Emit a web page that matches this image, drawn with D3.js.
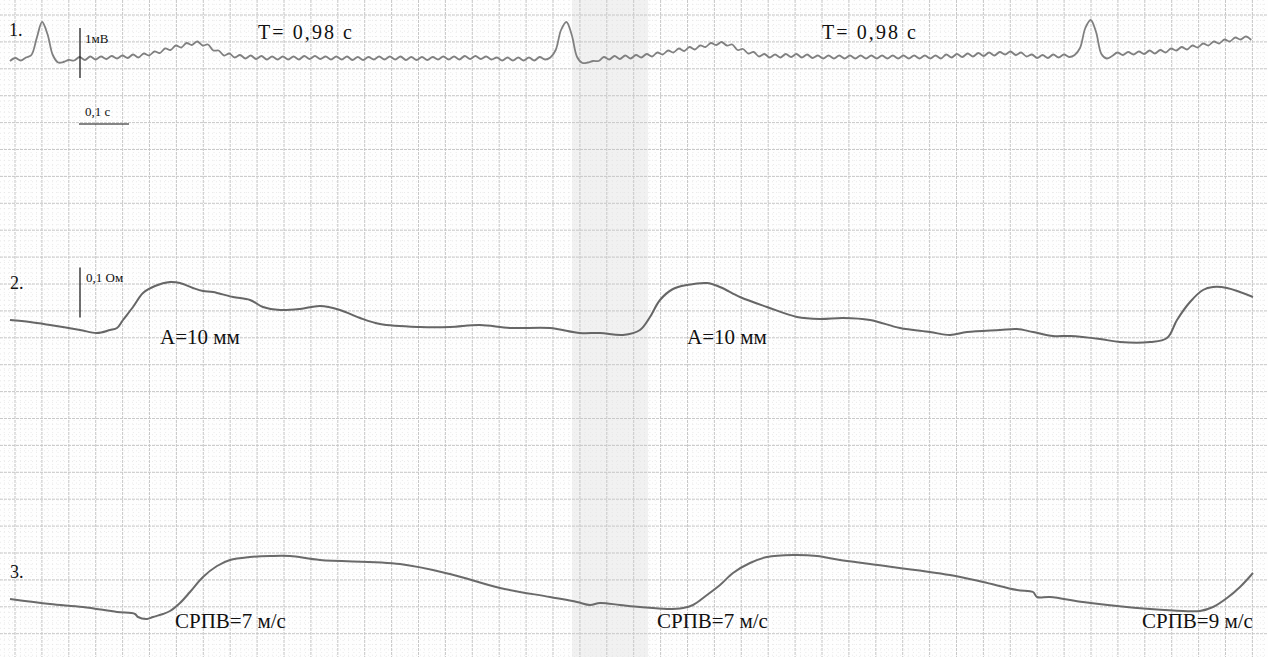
<!DOCTYPE html>
<html>
<head>
<meta charset="utf-8">
<script src="https://cdn.jsdelivr.net/npm/d3@7"></script>
<style>
  html, body { margin: 0; padding: 0; background: #fff; }
  svg text { font-family: "Liberation Serif", "Times New Roman", serif; fill: #111; }
</style>
</head>
<body>
<div id="chart"></div>
<script>
// channel 1: ECG, sampled every 10.7 ms (mV)
const ecgStepMs = 10.7;
const ecgMv = [
  -0.06, 0, -0.05, 0.01, 0.06, 0.40, 0.72, 0.48, 0.06, -0.09,
  -0.08, -0.04, -0.05, 0.02, -0.04, 0.03, -0.03, 0.03, -0.02, 0.04,
  -0.01, 0.05, 0, 0.07, 0.01, 0.09, 0.05, 0.13, 0.10, 0.19,
  0.16, 0.25, 0.21, 0.30, 0.26, 0.33, 0.25, 0.27, 0.15, 0.15,
  0.05, 0.09, 0.01, 0.06, -0.01, 0.05, -0.02, 0.04, -0.03, 0.03,
  -0.03, 0.03, -0.03, 0.03, -0.03, 0.04, -0.02, 0.04, -0.02, 0.03,
  -0.03, 0.03, -0.03, 0.03, -0.04, 0.02, -0.04, 0.02, -0.03, 0.03,
  -0.03, 0.03, -0.03, 0.03, -0.04, 0.02, -0.04, 0.02, -0.04, 0.02,
  -0.03, 0.03, -0.03, 0.03, -0.03, 0.04, -0.02, 0.04, -0.02, 0.03,
  -0.03, 0.01, -0.05, 0.01, -0.05, 0.01, -0.05, 0.01, -0.05, 0.02,
  -0.03, 0.01, 0.16, 0.56, 0.72, 0.46, 0.02, -0.10, -0.09, -0.06,
  -0.06, 0.02, -0.03, 0.04, -0.02, 0.05, -0.01, 0.06, 0.01, 0.08,
  0.03, 0.11, 0.07, 0.15, 0.11, 0.19, 0.14, 0.22, 0.17, 0.25,
  0.22, 0.30, 0.26, 0.32, 0.25, 0.27, 0.16, 0.18, 0.09, 0.12,
  0.03, 0.08, 0.01, 0.07, 0.01, 0.08, 0.02, 0.08, 0.01, 0.07,
  0, 0.05, -0.01, 0.05, -0.01, 0.05, -0.01, 0.05, -0.01, 0.05,
  -0.01, 0.05, -0.01, 0.05, -0.01, 0.05, -0.01, 0.05, -0.01, 0.05,
  -0.01, 0.05, -0.01, 0.05, -0.01, 0.07, 0.01, 0.08, 0.02, 0.09,
  0.03, 0.10, 0.04, 0.11, 0.05, 0.12, 0.07, 0.13, 0.06, 0.11,
  0.03, 0.07, 0, 0.06, 0, 0.07, 0.01, 0.07, 0.02, 0.06,
  0.20, 0.60, 0.76, 0.52, 0.08, -0.01, 0.04, 0.11, 0.06, 0.12,
  0.07, 0.13, 0.08, 0.15, 0.09, 0.16, 0.11, 0.19, 0.15, 0.22,
  0.17, 0.25, 0.21, 0.29, 0.25, 0.33, 0.29, 0.37, 0.33, 0.41,
  0.37, 0.43, 0.36
];

// channel 2: rheogram (Ohm)
const rheoTimeMs = [0, 40, 80, 140, 174, 200, 214, 226, 246, 266, 290, 320, 340, 366, 386, 406,
  446, 480, 506, 540, 580, 620, 660, 700, 740, 820, 880, 940, 1000, 1080, 1140, 1180,
  1226, 1260, 1280, 1300, 1326, 1354, 1394, 1420, 1460, 1514, 1574, 1620, 1666, 1720,
  1780, 1840, 1880, 1914, 1980, 2014, 2046, 2086, 2120, 2180, 2220, 2280, 2314, 2334,
  2360, 2386, 2406, 2434, 2486];
const rheoOhm = [0, -0.004, -0.010, -0.020, -0.026, -0.020, -0.016, 0, 0.026, 0.054, 0.068, 0.076,
  0.074, 0.064, 0.058, 0.056, 0.046, 0.040, 0.026, 0.020, 0.022, 0.028, 0.020, 0.004,
  -0.008, -0.014, -0.014, -0.010, -0.016, -0.016, -0.026, -0.026, -0.030, -0.020, 0.006,
  0.040, 0.062, 0.070, 0.074, 0.066, 0.046, 0.026, 0.006, 0.002, 0.004, 0,
  -0.016, -0.024, -0.030, -0.024, -0.020, -0.018, -0.024, -0.032, -0.032, -0.038,
  -0.044, -0.044, -0.036, 0, 0.036, 0.060, 0.066, 0.064, 0.046];

// channel 3: sphygmogram (mm)
const sphygTimeMs = [0, 80, 146, 214, 250, 256, 274, 286, 306, 320, 340, 360, 386, 414, 440, 480,
  520, 560, 620, 780, 880, 980, 1080, 1134, 1160, 1180, 1220, 1260, 1314, 1346, 1366,
  1394, 1420, 1446, 1480, 1514, 1566, 1614, 1660, 1720, 1880, 1946, 2014, 2046, 2054,
  2080, 2146, 2214, 2280, 2346, 2380, 2406, 2434, 2460, 2486];
const sphygMm = [0.2, -0.8, -1.4, -2.4, -2.8, -3.4, -3.8, -3.4, -2.8, -2.2, -0.6, 1.6, 4.6, 6.8,
  8.0, 8.6, 8.8, 8.8, 8.0, 7.2, 5.2, 2.4, 0.6, -0.4, -1.0, -0.6, -1.0, -1.4, -1.8, -1.6,
  -1.0, 1.0, 3.0, 5.4, 7.4, 8.6, 9.0, 8.8, 8.0, 7.2, 5.0, 3.6, 2.0, 1.6, 0.6, 0.6,
  -0.4, -1.2, -1.8, -2.2, -2.2, -1.4, 0.4, 2.6, 5.4];

const periodLabels = ['T= 0,98 с', 'T= 0,98 с'];
const amplitudeLabels = ['А=10 мм', 'А=10 мм'];
const pwvLabels = ['СРПВ=7 м/с', 'СРПВ=7 м/с', 'СРПВ=9 м/с'];

const width = 1268, height = 657;
const svg = d3.select('#chart').append('svg')
  .attr('width', width)
  .attr('height', height);

// paper grid
const cell = 26.9;
const gridX = d3.range(15, width, cell);
const gridY = d3.range(15, height, cell);
const minorX = d3.range(15 - cell, width, cell / 5);
const minorY = d3.range(15 - cell, height, cell / 5);

svg.append('rect').attr('width', width).attr('height', height).attr('fill', '#fefefe');
// darker strip of paper
svg.append('rect').attr('x', 572).attr('y', 0).attr('width', 76).attr('height', height)
  .attr('fill', '#f1f1f1');

const grid = svg.append('g');
grid.selectAll('line.mx').data(minorX).enter().append('line')
  .attr('x1', d => d).attr('x2', d => d).attr('y1', 0).attr('y2', height)
  .attr('stroke', '#e4e4e4').attr('stroke-width', 0.8).attr('stroke-dasharray', '1,3');
grid.selectAll('line.my').data(minorY).enter().append('line')
  .attr('y1', d => d).attr('y2', d => d).attr('x1', 0).attr('x2', width)
  .attr('stroke', '#e4e4e4').attr('stroke-width', 0.8).attr('stroke-dasharray', '1,3');
grid.selectAll('line.gx').data(gridX).enter().append('line')
  .attr('x1', d => d).attr('x2', d => d).attr('y1', 0).attr('y2', height)
  .attr('stroke', '#c8c8c8').attr('stroke-width', 1).attr('stroke-dasharray', '3,1');
grid.selectAll('line.gy').data(gridY).enter().append('line')
  .attr('y1', d => d).attr('y2', d => d).attr('x1', 0).attr('x2', width)
  .attr('stroke', '#c8c8c8').attr('stroke-width', 1).attr('stroke-dasharray', '3,1');

// scales
const x = d3.scaleLinear().domain([0, 2486]).range([10, 1253]);
const y1 = d3.scaleLinear().domain([-1, 1]).range([108, 8]);
const y2 = d3.scaleLinear().domain([-0.1, 0.1]).range([370, 270]);
const y3 = d3.scaleLinear().domain([-10, 10]).range([650, 550]);

const ecg = ecgMv.map((v, i) => ({ t: i * ecgStepMs, v }));
const rheo = rheoTimeMs.map((t, i) => ({ t, v: rheoOhm[i] }));
const sphyg = sphygTimeMs.map((t, i) => ({ t, v: sphygMm[i] }));

function trace(data, y, color, w) {
  svg.append('path')
    .datum(data)
    .attr('fill', 'none')
    .attr('stroke', color)
    .attr('stroke-width', w)
    .attr('stroke-linejoin', 'round')
    .attr('d', d3.line().x(d => x(d.t)).y(d => y(d.v)).curve(d3.curveCatmullRom));
}
trace(ecg, y1, '#808080', 1.8);
trace(rheo, y2, '#666', 2);
trace(sphyg, y3, '#6a6a6a', 2);

// calibration marks
svg.append('line').attr('x1', x(140)).attr('x2', x(140)).attr('y1', y1(0.6)).attr('y2', y1(-0.4))
  .attr('stroke', '#111').attr('stroke-width', 1.2);
svg.append('line').attr('x1', x(138)).attr('x2', x(238)).attr('y1', 124).attr('y2', 124)
  .attr('stroke', '#111').attr('stroke-width', 1.2);
svg.append('line').attr('x1', x(140)).attr('x2', x(140)).attr('y1', y2(0.105)).attr('y2', y2(0.005))
  .attr('stroke', '#111').attr('stroke-width', 1.2);

function label(txt, px, py, size, len) {
  const t = svg.append('text').attr('x', px).attr('y', py).attr('font-size', size).text(txt);
  if (len) t.attr('textLength', len).attr('lengthAdjust', 'spacing');
}
label('1.', 9, 36, 18);
label('2.', 10, 289, 18);
label('3.', 10, 578, 18);
label('1мВ', 85, 43, 13);
label('0,1 с', 85, 116, 13);
label('0,1 Ом', 86, 282, 13);

periodLabels.forEach((s, i) => label(s, [258, 822][i], 39, 20, 94));
amplitudeLabels.forEach((s, i) => label(s, [160, 687][i], 344, 21));
pwvLabels.forEach((s, i) => label(s, [175, 657, 1142][i], 628, 21));
</script>
</body>
</html>
